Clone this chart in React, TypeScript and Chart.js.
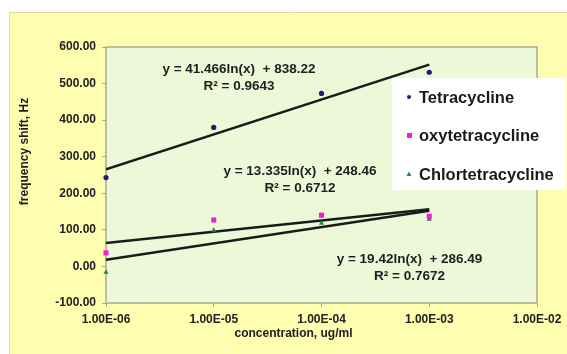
import { useEffect, useRef } from "react";
import { Chart, registerables } from "chart.js";

Chart.register(...registerables);

// Measured frequency shift (Hz) per antibiotic at each concentration (ug/ml)
const concentrations = [1e-6, 1e-5, 1e-4, 1e-3];
const tetracycline = [243, 380, 473, 531];
const oxytetracycline = [37, 127, 140, 137];
const chlortetracycline = [-16, 99, 118, 129];

const seriesNames = ["Tetracycline", "oxytetracycline", "Chlortetracycline"];

// Logarithmic trendlines: y = slope * ln(x) + intercept
const trendSlopes = [41.466, 13.335, 19.42];
const trendIntercepts = [838.22, 248.46, 286.49];
const trendR2 = ["0.9643", "0.6712", "0.7672"];

const xTickValues = [1e-6, 1e-5, 1e-4, 1e-3, 1e-2];
const yMin = -100;
const yMax = 600;
const yStep = 100;

const xTitle = "concentration, ug/ml";
const yTitle = "frequency shift, Hz";

// Layout / style constants
const FONT = "'Liberation Sans', Arial, sans-serif";
const seriesColors = ["#1c1c7a", "#f01cd8", "#1f8a3a"];
const seriesPointStyles = ["circle", "rect", "triangle"];
const seriesPointRadius = [2.6, 3.6, 3];
const equationAnchors = [
  { x: 1.715e-5, y: 540 },
  { x: 6.32e-5, y: 259 },
  { x: 6.56e-4, y: 20 },
];

function formatSci(v: number): string {
  const exp = Math.round(Math.log10(v));
  const mant = v / Math.pow(10, exp);
  const sign = exp < 0 ? "-" : "+";
  return `${mant.toFixed(2)}E${sign}${String(Math.abs(exp)).padStart(2, "0")}`;
}

const seriesValues = [tetracycline, oxytetracycline, chlortetracycline];

const decorPlugin = {
  id: "decor",
  beforeDraw(chart: any) {
    const { ctx, width, height, chartArea } = chart;
    ctx.save();
    ctx.fillStyle = "#ffffff";
    ctx.fillRect(0, 0, width, height);
    ctx.fillStyle = "#fffdb0";
    ctx.fillRect(9, 12, width - 9, height - 12);
    ctx.strokeStyle = "#e2dc9c";
    ctx.lineWidth = 1;
    ctx.beginPath();
    ctx.moveTo(9.5, height);
    ctx.lineTo(9.5, 12.5);
    ctx.lineTo(width, 12.5);
    ctx.stroke();
    ctx.fillStyle = "#edf8d8";
    ctx.fillRect(
      chartArea.left,
      chartArea.top,
      chartArea.right - chartArea.left,
      chartArea.bottom - chartArea.top
    );
    ctx.restore();
  },
  beforeDatasetsDraw(chart: any) {
    const { ctx, chartArea } = chart;
    ctx.save();
    ctx.strokeStyle = "#a9a98e";
    ctx.lineWidth = 1.5;
    ctx.strokeRect(
      chartArea.left,
      chartArea.top,
      chartArea.right - chartArea.left,
      chartArea.bottom - chartArea.top
    );
    ctx.restore();
  },
  afterDraw(chart: any) {
    const { ctx, scales } = chart;
    const xs = scales.x;
    const ys = scales.y;
    ctx.save();
    ctx.fillStyle = "#1e1e1e";
    ctx.textAlign = "center";
    ctx.textBaseline = "middle";

    // Trendline equations
    ctx.font = `bold 13.5px ${FONT}`;
    for (let i = 0; i < trendSlopes.length; i++) {
      const px = xs.getPixelForValue(equationAnchors[i].x);
      const py = ys.getPixelForValue(equationAnchors[i].y);
      ctx.fillText(`y = ${trendSlopes[i]}ln(x)  + ${trendIntercepts[i]}`, px, py);
      ctx.fillText(`R\u00b2 = ${trendR2[i]}`, px, py + 17);
    }

    // Axis titles
    ctx.font = `bold 12px ${FONT}`;
    ctx.fillText(xTitle, 293.5, 334);
    ctx.save();
    ctx.translate(25, 151.5);
    ctx.rotate(-Math.PI / 2);
    ctx.fillText(yTitle, 0, 0);
    ctx.restore();

    // Legend box
    const lx = 392;
    const ly = 78;
    ctx.fillStyle = "#ffffff";
    ctx.fillRect(lx, ly, 174, 112);
    ctx.font = `bold 16.5px ${FONT}`;
    ctx.textAlign = "left";
    for (let i = 0; i < seriesNames.length; i++) {
      const cy = ly + 19 + i * 38.5;
      ctx.fillStyle = seriesColors[i];
      if (i === 0) {
        ctx.beginPath();
        ctx.arc(lx + 17, cy, 2, 0, Math.PI * 2);
        ctx.fill();
      } else if (i === 1) {
        ctx.fillRect(lx + 15, cy - 2.5, 5, 5);
      } else {
        ctx.beginPath();
        ctx.moveTo(lx + 17, cy - 2.5);
        ctx.lineTo(lx + 19.5, cy + 2);
        ctx.lineTo(lx + 14.5, cy + 2);
        ctx.closePath();
        ctx.fill();
      }
      ctx.fillStyle = "#1a1a1a";
      ctx.fillText(seriesNames[i], lx + 27, cy + 1);
    }
    ctx.restore();
  },
};

export default function App() {
  const ref = useRef<HTMLCanvasElement>(null);

  useEffect(() => {
    document.body.style.margin = "0";
    const xStart = concentrations[0];
    const xEnd = concentrations[concentrations.length - 1];

    const pointSets = seriesNames.map((name, i) => ({
      type: "scatter" as const,
      label: name,
      data: concentrations.map((c, j) => ({ x: c, y: seriesValues[i][j] })),
      backgroundColor: seriesColors[i],
      borderColor: seriesColors[i],
      pointStyle: seriesPointStyles[i] as any,
      pointRadius: seriesPointRadius[i],
      borderWidth: 0,
      showLine: false,
      clip: false as any,
      order: 1,
    }));

    const trendSets = seriesNames.map((name, i) => ({
      type: "scatter" as const,
      label: `${name} trend`,
      data: [xStart, xEnd].map((c) => ({
        x: c,
        y: trendSlopes[i] * Math.log(c) + trendIntercepts[i],
      })),
      borderColor: "#1a1a1a",
      backgroundColor: "#1a1a1a",
      borderWidth: 2.5,
      pointRadius: 0,
      showLine: true,
      order: 2,
    }));

    const tickFont = { family: FONT, size: 12, weight: "bold" as const };

    const chart = new Chart(ref.current!, {
      type: "scatter",
      data: { datasets: [...trendSets, ...pointSets] },
      options: {
        responsive: false,
        animation: false,
        layout: { padding: { left: 0, top: 47, right: 30, bottom: 0 } },
        plugins: {
          legend: { display: false },
          tooltip: { enabled: false },
        },
        scales: {
          x: {
            type: "logarithmic",
            min: xTickValues[0],
            max: xTickValues[xTickValues.length - 1],
            afterBuildTicks: (scale: any) => {
              scale.ticks = xTickValues.map((v) => ({ value: v }));
            },
            afterFit: (scale: any) => {
              scale.height = 51;
            },
            ticks: {
              callback: (v: any) => formatSci(Number(v)),
              font: tickFont,
              color: "#222222",
              maxRotation: 0,
              autoSkip: false,
              padding: 5,
            },
            grid: {
              drawOnChartArea: false,
              drawTicks: true,
              tickLength: 4,
              color: "#a9a98e",
            },
            border: { display: false },
          },
          y: {
            type: "linear",
            min: yMin,
            max: yMax,
            afterFit: (scale: any) => {
              scale.width = 106;
            },
            ticks: {
              stepSize: yStep,
              callback: (v: any) => Number(v).toFixed(2),
              font: tickFont,
              color: "#222222",
              padding: 6,
            },
            grid: {
              drawOnChartArea: false,
              drawTicks: true,
              tickLength: 4,
              color: "#a9a98e",
            },
            border: { display: false },
          },
        },
      },
      plugins: [decorPlugin],
    });
    return () => chart.destroy();
  }, []);

  return (
    <div style={{ width: 567, height: 354 }}>
      <canvas ref={ref} width={567} height={354} style={{ display: "block" }} />
    </div>
  );
}
